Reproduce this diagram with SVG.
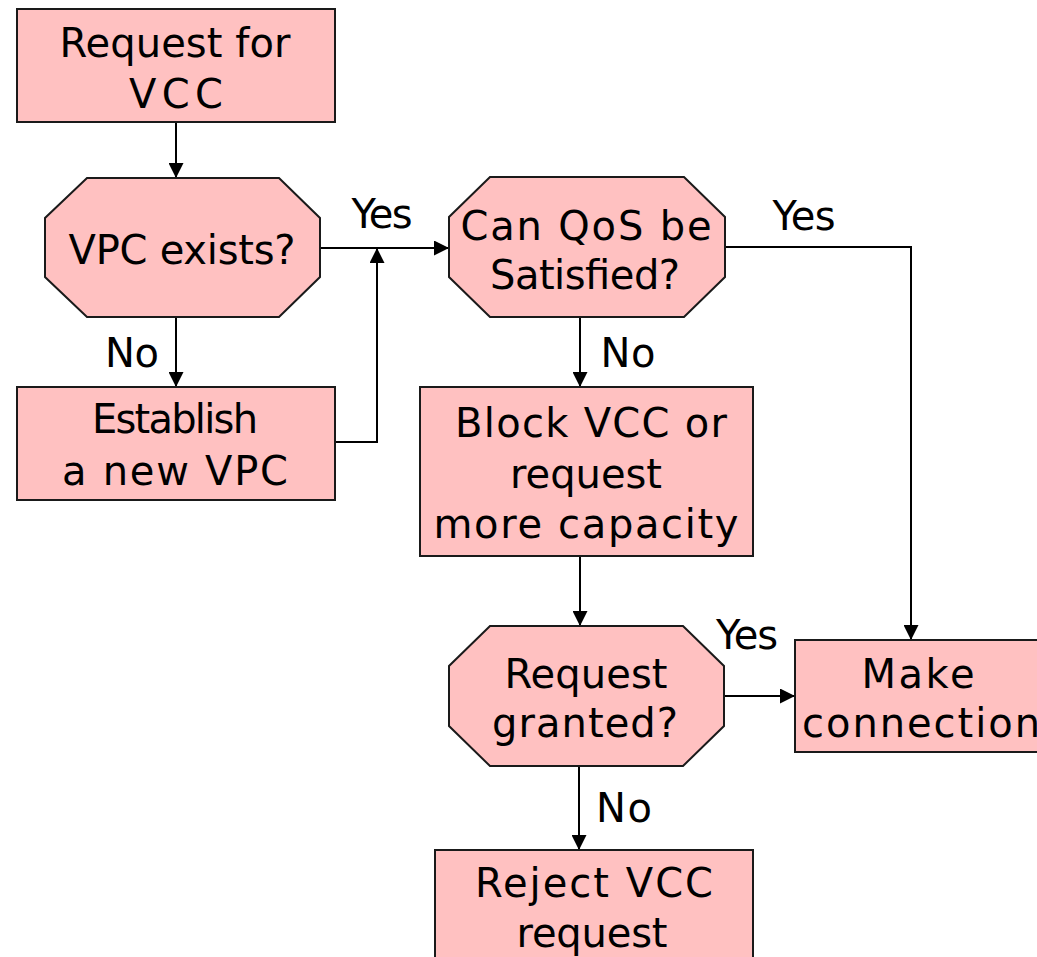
<svg xmlns="http://www.w3.org/2000/svg" width="1037" height="957" viewBox="0 0 1037 957">
  <style>
    .node { fill: #ffc1c1; stroke: #1a1a1a; stroke-width: 2; }
    .lbl { font-family: "DejaVu Sans", "Liberation Sans", sans-serif; font-size: 40px; fill: #000; text-anchor: middle; }
    .edge { fill: none; stroke: #000; stroke-width: 2; }
  </style>
  <defs>
    <marker id="arrow" markerUnits="userSpaceOnUse" markerWidth="15" markerHeight="15" refX="14" refY="7.5" orient="auto">
      <path d="M0,0 L15,7.5 L0,15 z" fill="#000"/>
    </marker>
  </defs>
  <rect width="1037" height="957" fill="#fff"/>

  <g id="connectors">
    <path class="edge" d="M176,122 V177" marker-end="url(#arrow)"/>
    <path class="edge" d="M320,248 H448" marker-end="url(#arrow)"/>
    <path class="edge" d="M176,317 V386" marker-end="url(#arrow)"/>
    <path class="edge" d="M335,442 H377 V249" marker-end="url(#arrow)"/>
    <path class="edge" d="M725,247 H911 V639" marker-end="url(#arrow)"/>
    <path class="edge" d="M580,317 V386" marker-end="url(#arrow)"/>
    <path class="edge" d="M580,556 V625" marker-end="url(#arrow)"/>
    <path class="edge" d="M724,696 H794" marker-end="url(#arrow)"/>
    <path class="edge" d="M579,766 V849" marker-end="url(#arrow)"/>
    <text class="lbl" x="382" y="228" textLength="61">Yes</text>
    <text class="lbl" x="804" y="230" textLength="63">Yes</text>
    <text class="lbl" x="747" y="649" textLength="62">Yes</text>
    <text class="lbl" x="132" y="367" textLength="54">No</text>
    <text class="lbl" x="628" y="367" textLength="55">No</text>
    <text class="lbl" x="624" y="822" textLength="56">No</text>
  </g>

  <g id="request-vcc">
    <rect class="node" x="17" y="9" width="318" height="113"/>
    <text class="lbl" x="175" y="57" textLength="231">Request for</text>
    <text class="lbl" x="176" y="108" textLength="94">VCC</text>
  </g>

  <g id="vpc-exists">
    <polygon class="node" points="87,178 279,178 320,218 320,277 279,317 87,317 45,277 45,218"/>
    <text class="lbl" x="182" y="264" textLength="227">VPC exists?</text>
  </g>

  <g id="establish-vpc">
    <rect class="node" x="17" y="387" width="318" height="113"/>
    <text class="lbl" x="175" y="433" textLength="166">Establish</text>
    <text class="lbl" x="175" y="485" textLength="226">a new VPC</text>
  </g>

  <g id="qos-check">
    <polygon class="node" points="490,177 684,177 725,217 725,277 684,317 490,317 449,277 449,217"/>
    <text class="lbl" x="586" y="240" textLength="251">Can QoS be</text>
    <text class="lbl" x="585" y="289" textLength="190">Satisfied?</text>
  </g>

  <g id="block-vcc">
    <rect class="node" x="420" y="387" width="333" height="169"/>
    <text class="lbl" x="591" y="437" textLength="272">Block VCC or</text>
    <text class="lbl" x="586" y="488" textLength="152">request</text>
    <text class="lbl" x="586" y="538" textLength="305">more capacity</text>
  </g>

  <g id="request-granted">
    <polygon class="node" points="490,626 683,626 724,666 724,726 683,766 490,766 449,726 449,666"/>
    <text class="lbl" x="586" y="688" textLength="163">Request</text>
    <text class="lbl" x="585" y="737" textLength="186">granted?</text>
  </g>

  <g id="make-connection">
    <rect class="node" x="795" y="640" width="260" height="112"/>
    <text class="lbl" x="918" y="688" textLength="113">Make</text>
    <text class="lbl" x="921" y="737" textLength="238">connection</text>
  </g>

  <g id="reject-vcc">
    <rect class="node" x="435" y="850" width="318" height="130"/>
    <text class="lbl" x="594" y="897" textLength="238">Reject VCC</text>
    <text class="lbl" x="592" y="947" textLength="151">request</text>
  </g>
</svg>
